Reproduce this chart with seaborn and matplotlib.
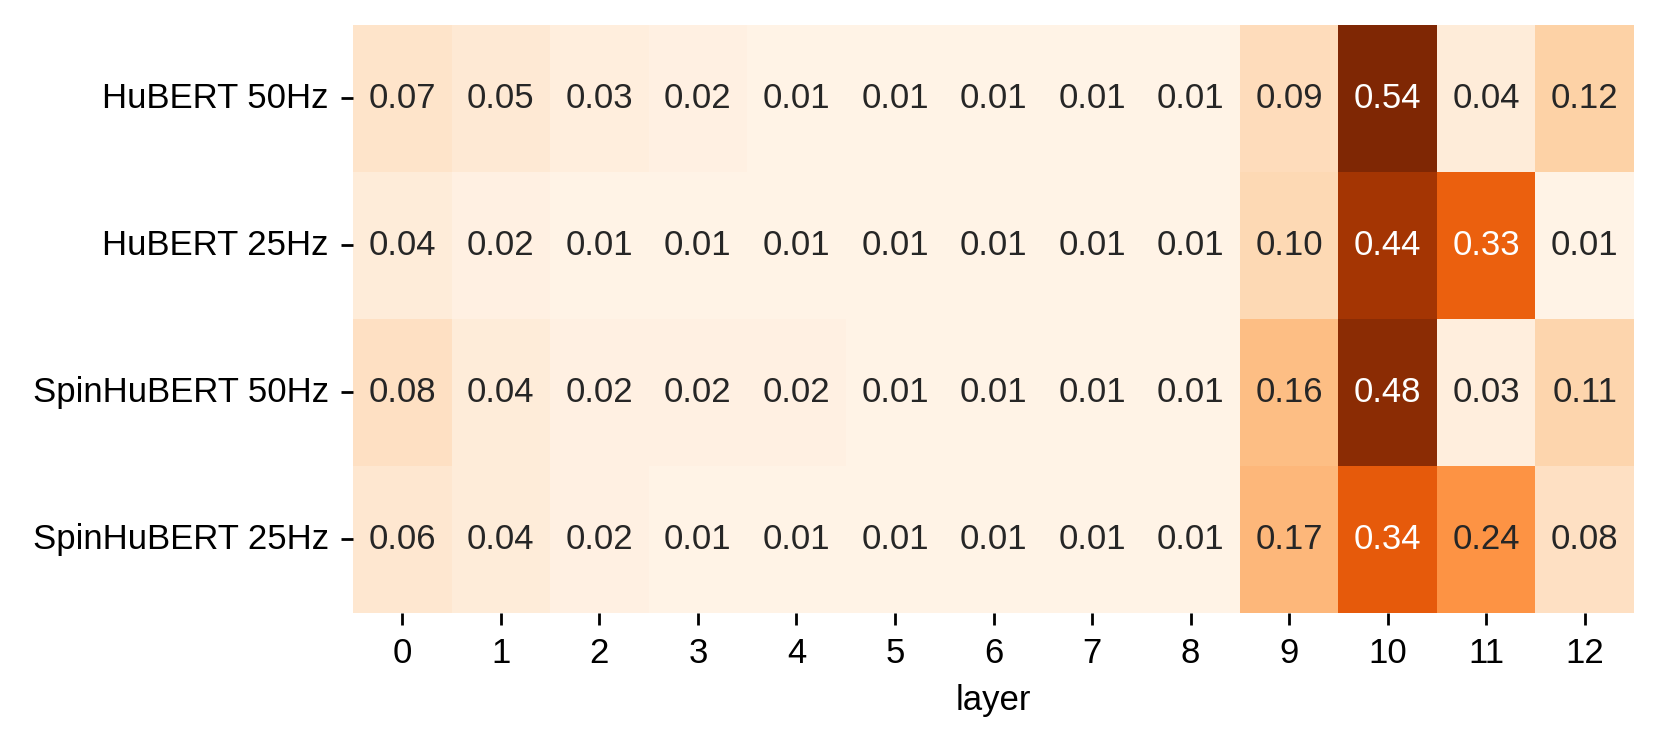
import matplotlib
matplotlib.use('Agg')
import matplotlib.pyplot as plt
import numpy as np
import pandas as pd
import seaborn as sns

plt.rcParams['font.family'] = ['Liberation Sans', 'DejaVu Sans']
plt.rcParams['font.size'] = 10

models = ['HuBERT 50Hz', 'HuBERT 25Hz', 'SpinHuBERT 50Hz', 'SpinHuBERT 25Hz']
layers = list(range(13))

hubert_50 = [0.07, 0.05, 0.03, 0.02, 0.01, 0.01, 0.01, 0.01, 0.01, 0.09, 0.54, 0.04, 0.12]
hubert_25 = [0.04, 0.02, 0.01, 0.01, 0.01, 0.01, 0.01, 0.01, 0.01, 0.10, 0.44, 0.33, 0.01]
spin_50 = [0.08, 0.04, 0.02, 0.02, 0.02, 0.01, 0.01, 0.01, 0.01, 0.16, 0.48, 0.03, 0.11]
spin_25 = [0.06, 0.04, 0.02, 0.01, 0.01, 0.01, 0.01, 0.01, 0.01, 0.17, 0.34, 0.24, 0.08]

df = pd.DataFrame([hubert_50, hubert_25, spin_50, spin_25], index=models, columns=layers)

fig, ax = plt.subplots(figsize=(6.64, 2.972), dpi=250)
sns.heatmap(df, cmap='Oranges', vmin=0, vmax=0.5, annot=True, fmt='.2f',
            cbar=False, ax=ax, annot_kws={'fontsize': 10})
ax.set_xlabel('layer', fontsize=10)
ax.set_ylabel('')
ax.tick_params(axis='both', labelsize=10)
ax.set_yticklabels(ax.get_yticklabels(), rotation=0)
fig.subplots_adjust(left=0.2127, right=0.9843, top=0.9664, bottom=0.175)

fig.savefig('out.png', dpi=250)
